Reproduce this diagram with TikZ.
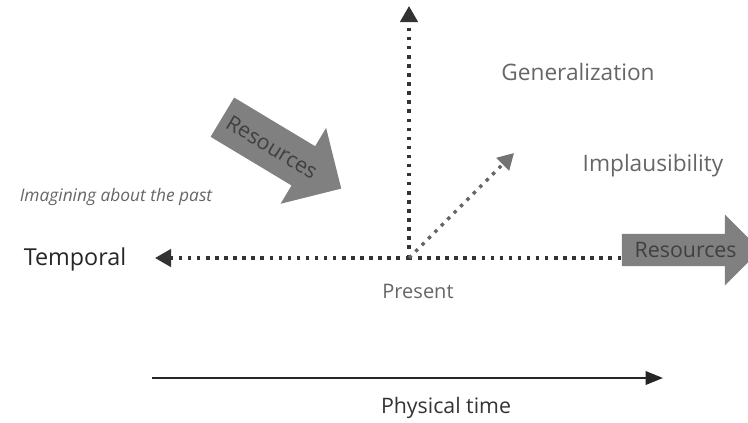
\documentclass[tikz,border=0pt]{standalone}
\usepackage{fontspec}
\setmainfont{Open Sans}
\usetikzlibrary{arrows.meta,shapes.arrows}

\tikzset{every picture/.style={line width=0.75pt}}
\tikzset{
  dotline/.style={line width=2.6pt, dash pattern=on 2.6pt off 4.2pt, color=black!80},
  bigarrow/.style={single arrow, fill=black!50, text=black!75, font=\fontsize{16}{18}\selectfont, inner xsep=1pt},
  greytext/.style={text=black!60, font=\fontsize{17}{20}\selectfont}
}

\begin{document}
\begin{tikzpicture}[x=0.75pt,y=0.75pt,yscale=-1,xscale=1]
\useasboundingbox (0,0) rectangle (748,422);

% Coordinates
\coordinate (o) at (409,258);
\coordinate (up) at (409,6);
\coordinate (diag) at (514,153);
\coordinate (left) at (155,258);
\coordinate (tstart) at (152,378);
\coordinate (tend) at (663,378);

% Arrow Nodes
\node [bigarrow, inner ysep=6pt, single arrow head extend=14.5pt, minimum height=104pt] (resright) at (683,250) {\hspace{4pt}Resources};
\node [bigarrow, rotate=-31, inner ysep=11pt, single arrow head extend=16pt, minimum height=104pt] (resdiag) at (272,147) {Resources};
\coordinate (right) at (resright.west |- o);

%Dotted Lines
\draw [dotline, -{Triangle[width=13pt,length=12pt]}] (o) -- (up) ;
\draw [dotline, -{Triangle[width=13pt,length=12pt]}] (o) -- (left) ;
\draw [dotline] (o) -- (right) ;
\draw [dotline, color=black!60, -{Triangle[width=13pt,length=12pt,color=black!55]}] (o) -- (diag) ;

%Straight Lines
\draw [line width=1.8pt, color=black!85, -{Triangle[width=10pt,length=13pt]}] (tstart) -- (tend) ;

% Text Node
\node [greytext] (gen) at (578,72) {Generalization};
% Text Node
\node [greytext] (impl) at (653,166) {Implausibility};
% Text Node
\node [greytext, font=\fontsize{13}{15}\selectfont\itshape] (past) at (116,197) {Imagining about the past};
% Text Node
\node [text=black!85, font=\fontsize{17.5}{20}\selectfont] (tmp) at (75,259) {Temporal};
% Text Node
\node [greytext, font=\fontsize{15}{17}\selectfont] (pres) at (418,291) {Present};
% Text Node
\node [text=black!80, font=\fontsize{16}{19}\selectfont] (phys) at (446,408) {Physical time};

\end{tikzpicture}
\end{document}
